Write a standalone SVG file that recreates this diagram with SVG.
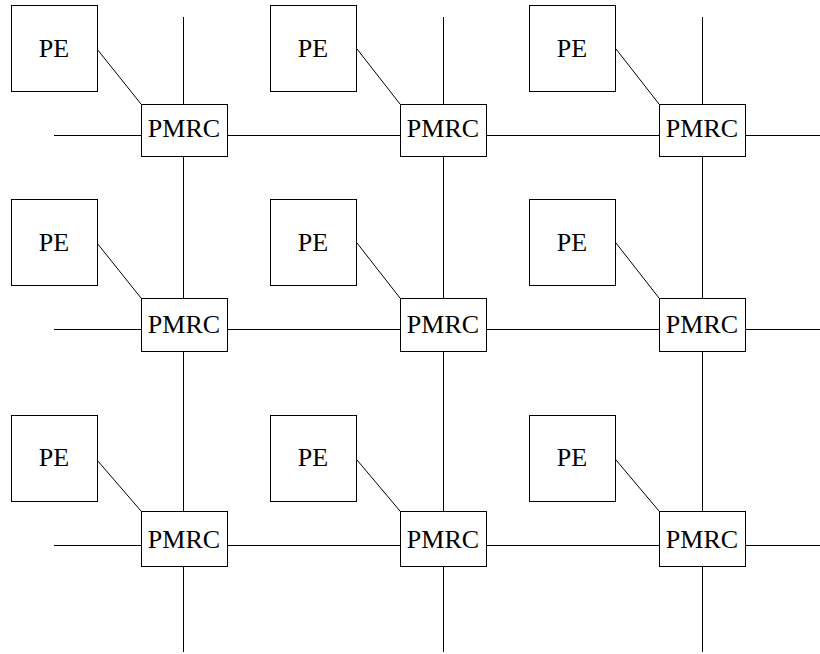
<svg xmlns="http://www.w3.org/2000/svg" width="820" height="654" viewBox="0 0 820 654">
<style>
.b{fill:#fff;stroke:#000;stroke-width:1}
.t{font-family:"Liberation Serif","Times New Roman",serif;font-size:26px;fill:#000;text-anchor:middle}
.l{stroke:#000;stroke-width:1;fill:none}
</style>
<rect width="820" height="654" fill="#fff"/>
<g id="connectors" class="l">
<!-- vertical lines -->
<line x1="183.5" y1="17" x2="183.5" y2="652"/>
<line x1="443.5" y1="17" x2="443.5" y2="652"/>
<line x1="702.5" y1="17" x2="702.5" y2="652"/>
<!-- horizontal lines -->
<line x1="54" y1="135.5" x2="820" y2="135.5"/>
<line x1="54" y1="329.5" x2="820" y2="329.5"/>
<line x1="54" y1="545.5" x2="820" y2="545.5"/>
<!-- PE to PMRC diagonals -->
<line x1="97" y1="49" x2="141" y2="104"/>
<line x1="357" y1="49" x2="400" y2="104"/>
<line x1="616" y1="49" x2="659" y2="104"/>
<line x1="97" y1="243" x2="141" y2="298"/>
<line x1="357" y1="243" x2="400" y2="298"/>
<line x1="616" y1="243" x2="659" y2="298"/>
<line x1="97" y1="460" x2="141" y2="511"/>
<line x1="357" y1="460" x2="400" y2="511"/>
<line x1="616" y1="460" x2="659" y2="511"/>
</g>
<g id="pe11"><rect class="b" x="11.5" y="5.5" width="86" height="86"/><text class="t" x="54" y="57">PE</text></g>
<g id="pe12"><rect class="b" x="270.5" y="5.5" width="86" height="86"/><text class="t" x="313" y="57">PE</text></g>
<g id="pe13"><rect class="b" x="529.5" y="5.5" width="86" height="86"/><text class="t" x="572" y="57">PE</text></g>
<g id="pe21"><rect class="b" x="11.5" y="199.5" width="86" height="86"/><text class="t" x="54" y="251">PE</text></g>
<g id="pe22"><rect class="b" x="270.5" y="199.5" width="86" height="86"/><text class="t" x="313" y="251">PE</text></g>
<g id="pe23"><rect class="b" x="529.5" y="199.5" width="86" height="86"/><text class="t" x="572" y="251">PE</text></g>
<g id="pe31"><rect class="b" x="11.5" y="415.5" width="86" height="86"/><text class="t" x="54" y="466">PE</text></g>
<g id="pe32"><rect class="b" x="270.5" y="415.5" width="86" height="86"/><text class="t" x="313" y="466">PE</text></g>
<g id="pe33"><rect class="b" x="529.5" y="415.5" width="86" height="86"/><text class="t" x="572" y="466">PE</text></g>
<g id="pmrc11"><rect class="b" x="141.5" y="104.5" width="86" height="52"/><text class="t" x="184" y="137">PMRC</text></g>
<g id="pmrc12"><rect class="b" x="400.5" y="104.5" width="86" height="52"/><text class="t" x="443" y="137">PMRC</text></g>
<g id="pmrc13"><rect class="b" x="659.5" y="104.5" width="86" height="52"/><text class="t" x="702" y="137">PMRC</text></g>
<g id="pmrc21"><rect class="b" x="141.5" y="298.5" width="86" height="53"/><text class="t" x="184" y="333">PMRC</text></g>
<g id="pmrc22"><rect class="b" x="400.5" y="298.5" width="86" height="53"/><text class="t" x="443" y="333">PMRC</text></g>
<g id="pmrc23"><rect class="b" x="659.5" y="298.5" width="86" height="53"/><text class="t" x="702" y="333">PMRC</text></g>
<g id="pmrc31"><rect class="b" x="141.5" y="511.5" width="86" height="55"/><text class="t" x="184" y="548">PMRC</text></g>
<g id="pmrc32"><rect class="b" x="400.5" y="511.5" width="86" height="55"/><text class="t" x="443" y="548">PMRC</text></g>
<g id="pmrc33"><rect class="b" x="659.5" y="511.5" width="86" height="55"/><text class="t" x="702" y="548">PMRC</text></g>
</svg>
